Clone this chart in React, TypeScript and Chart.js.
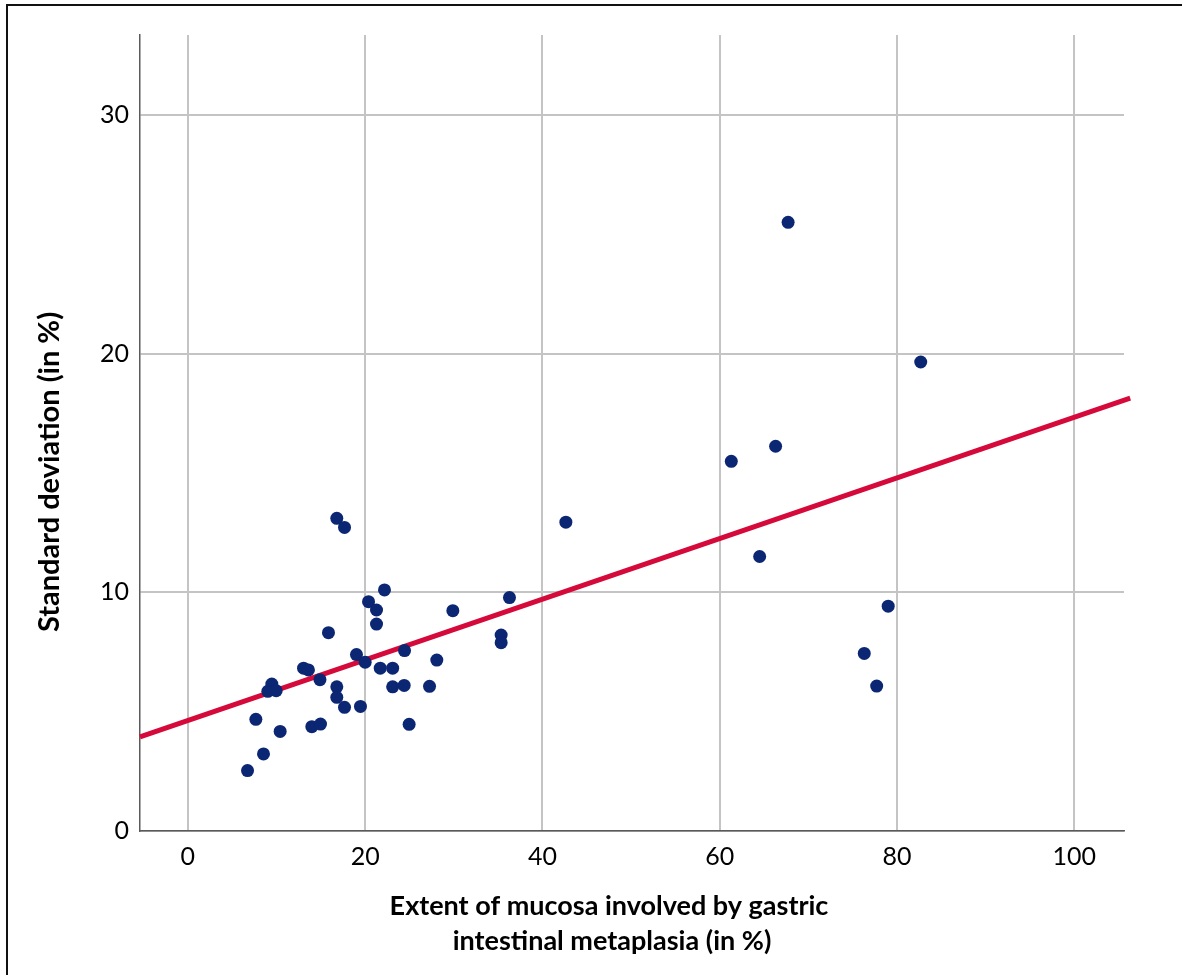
import React, { useEffect, useRef } from "react";
import { Chart, registerables } from "chart.js";

Chart.register(...registerables);

// Scatter data: extent of IM (%) vs standard deviation (%)
const extentValues = [
  16.8, 17.67, 22.18, 20.38, 21.28, 21.28, 36.28, 29.89, 15.86, 35.34,
  35.34, 24.44, 19.02, 20.0, 28.08, 13.05, 13.6, 21.7, 23.1, 14.9,
  9.47, 9.02, 9.96, 16.8, 16.8, 23.1, 24.4, 27.26, 17.67, 19.47,
  7.67, 13.98, 14.96, 10.41, 24.96, 8.53, 6.73, 42.64, 67.71, 82.67,
  61.3, 66.3, 64.5, 79.0, 76.3, 77.7,
];
const sdValues = [
  13.1, 12.72, 10.1, 9.61, 9.26, 8.67, 9.78, 9.23, 8.31, 8.21,
  7.89, 7.56, 7.39, 7.07, 7.16, 6.82, 6.75, 6.82, 6.82, 6.34,
  6.16, 5.85, 5.88, 6.04, 5.6, 6.04, 6.1, 6.06, 5.18, 5.22,
  4.68, 4.37, 4.48, 4.17, 4.47, 3.23, 2.53, 12.94, 25.5, 19.65,
  15.49, 16.12, 11.5, 9.42, 7.44, 6.07,
];

// Fit line endpoints
const fitX = [-5.4, 106.3];
const fitY = [3.94, 18.14];

const xTicks = [0, 20, 40, 60, 80, 100];
const yTicks = [0, 10, 20, 30];

const xTitleLines = ["Extent of mucosa involved by gastric", "intestinal metaplasia (in %)"];
const yTitle = "Standard deviation (in %)";

export default function App() {
  const canvasRef = useRef<HTMLCanvasElement | null>(null);

  useEffect(() => {
    const canvas = canvasRef.current;
    if (!canvas) return;

    const titlePlugin = {
      id: "axisTitles",
      afterDraw(chart: any) {
        const ctx = chart.ctx as CanvasRenderingContext2D;
        ctx.save();
        ctx.fillStyle = "#000";
        ctx.textAlign = "center";
        ctx.textBaseline = "middle";
        ctx.font = "bold 27px Lato, 'Open Sans', sans-serif";
        ctx.fillText(xTitleLines[0], 609, 906);
        ctx.fillText(xTitleLines[1], 612, 941);
        ctx.font = "bold 29px Lato, 'Open Sans', sans-serif";
        ctx.translate(50, 472);
        ctx.rotate(-Math.PI / 2);
        ctx.fillText(yTitle, 0, 0);
        ctx.restore();
      },
    };

    const tickFont = { family: "Lato, 'Open Sans', sans-serif", size: 25 };

    const chart = new Chart(canvas, {
      type: "scatter",
      data: {
        datasets: [
          {
            type: "scatter",
            data: extentValues.map((x, i) => ({ x, y: sdValues[i] })),
            backgroundColor: "#0b2673",
            borderColor: "#0b2673",
            borderWidth: 0,
            pointRadius: 6.5,
            order: 0,
          },
          {
            type: "line",
            data: fitX.map((x, i) => ({ x, y: fitY[i] })),
            borderColor: "#d50a3b",
            borderWidth: 5,
            pointRadius: 0,
            fill: false,
            clip: false as any,
            borderCapStyle: "butt",
            order: 1,
          } as any,
        ],
      },
      options: {
        animation: false,
        responsive: false,
        maintainAspectRatio: false,
        layout: { padding: { left: 0, top: 35, right: 58, bottom: 0 } },
        plugins: {
          legend: { display: false },
          tooltip: { enabled: false },
        },
        scales: {
          x: {
            type: "linear",
            min: -5.4,
            max: 105.6,
            afterBuildTicks: (axis: any) => {
              axis.ticks = xTicks.map((v) => ({ value: v }));
            },
            afterFit: (axis: any) => {
              axis.height = 144;
            },
            grid: {
              color: "#c4c4c4",
              lineWidth: 2,
              drawTicks: false,
            },
            border: { display: true, color: "#5a5a5a", width: 1.5 },
            ticks: {
              color: "#000",
              font: tickFont,
              padding: 11,
              maxRotation: 0,
            },
          },
          y: {
            type: "linear",
            min: 0,
            max: 33.35,
            afterBuildTicks: (axis: any) => {
              axis.ticks = yTicks.map((v) => ({ value: v }));
            },
            afterFit: (axis: any) => {
              axis.width = 140;
            },
            grid: {
              color: "#c4c4c4",
              lineWidth: 2,
              drawTicks: false,
            },
            border: { display: true, color: "#5a5a5a", width: 1.5 },
            ticks: {
              color: "#000",
              font: tickFont,
              padding: 11,
            },
          },
        },
      },
      plugins: [titlePlugin],
    } as any);

    return () => chart.destroy();
  }, []);

  return (
    <div
      style={{
        position: "fixed",
        left: 0,
        top: 0,
        width: 1182,
        height: 975,
        background: "#fff",
      }}
    >
      <div
        style={{
          position: "absolute",
          left: 6,
          top: 4,
          width: 1176,
          height: 971,
          borderTop: "2px solid #111",
          borderLeft: "2px solid #111",
          boxSizing: "border-box",
        }}
      />
      <canvas
        ref={canvasRef}
        width={1182}
        height={975}
        style={{ position: "absolute", left: 0, top: 0, width: 1182, height: 975 }}
      />
    </div>
  );
}
